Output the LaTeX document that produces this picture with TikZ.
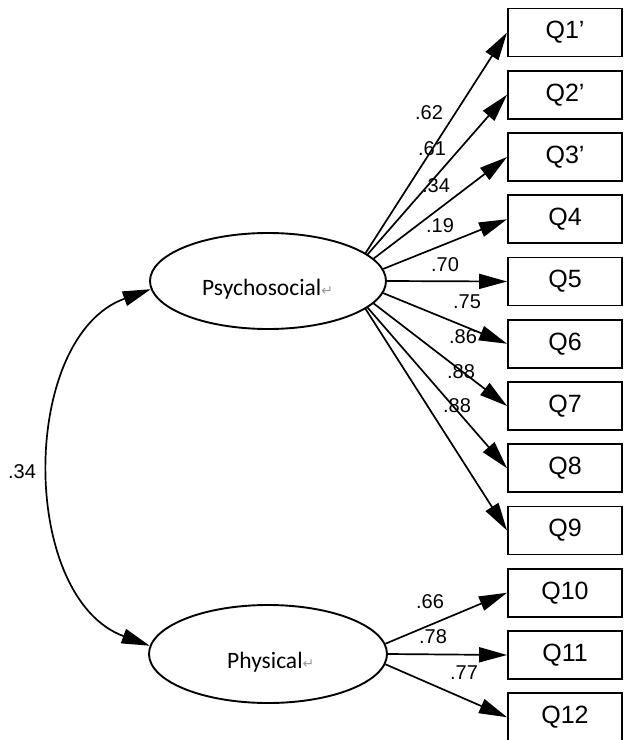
\documentclass[tikz,border=0pt]{standalone}
\usepackage{fontspec}
\setmainfont{Liberation Sans}
\newfontfamily\carlfont{Carlito}
\newfontfamily\djvfont{DejaVu Sans}
\usetikzlibrary{arrows.meta,shapes.geometric}
\definecolor{markgray}{HTML}{999999}
\begin{document}
\begin{tikzpicture}[x=1pt,y=-1pt,
  lat/.style={ellipse,draw,line width=1.9pt,minimum width=236pt,minimum height=96pt,inner sep=0pt},
  obs/.style={rectangle,draw,line width=1.9pt,minimum width=114pt,minimum height=48pt,inner sep=0pt,font=\fontsize{25}{28}\selectfont},
  ld/.style={line width=1.7pt,-{Triangle[length=28pt,width=15pt]}},
  cov/.style={line width=1.7pt,{Triangle[length=28pt,width=15pt]}-{Triangle[length=28pt,width=15pt]}},
  coef/.style={font=\fontsize{20}{23}\selectfont,inner sep=0pt},
  lattext/.style={anchor=base west,inner sep=0pt,font=\carlfont\fontsize{23.5}{26}\selectfont},
  ]
\useasboundingbox (0,0) rectangle (624,740);
% latent variables
\node[lat] (P) at (268,281) {};
\node[lat,minimum width=238pt,minimum height=98pt] (F) at (268,654) {};
\node[lattext] (Pt) at (202,295) {Psychosocial\textcolor{markgray}{\djvfont\fontsize{14}{16}\selectfont ↵}};
\node[lattext] (Ft) at (227,668) {Physical\textcolor{markgray}{\djvfont\fontsize{14}{16}\selectfont ↵}};
% observed variables
\node[obs] (Q1) at (565,32.5) {Q1'};
\node[obs] (Q2) at (565,94.75) {Q2'};
\node[obs] (Q3) at (565,157) {Q3'};
\node[obs] (Q4) at (565,219.25) {Q4};
\node[obs] (Q5) at (565,281.5) {Q5};
\node[obs] (Q6) at (565,343.75) {Q6};
\node[obs] (Q7) at (565,406) {Q7};
\node[obs] (Q8) at (565,468.25) {Q8};
\node[obs] (Q9) at (565,530.5) {Q9};
\node[obs] (Q10) at (565,592.75) {Q10};
\node[obs] (Q11) at (565,655) {Q11};
\node[obs] (Q12) at (565,717.25) {Q12};
% loadings
\draw[ld] (P.16) -- (Q1.west);
\draw[ld] (P.15) -- (Q2.west);
\draw[ld] (P.12) -- (Q3.west);
\draw[ld] (P.6) -- (Q4.west);
\draw[ld] (P.0) -- (Q5.west);
\draw[ld] (P.-6) -- (Q6.west);
\draw[ld] (P.-12) -- (Q7.west);
\draw[ld] (P.-15) -- (Q8.west);
\draw[ld] (P.-16) -- (Q9.west);
\draw[ld] (F.5) -- (Q10.west);
\draw[ld] (F.0) -- (Q11.west);
\draw[ld] (F.-5) -- (Q12.west);
% covariance
\draw[cov] (P.184) to[bend right=70] (F.176);
% coefficients
\node[coef] (c1) at (429,113) {.62};
\node[coef] (c2) at (432,149) {.61};
\node[coef] (c3) at (436,186) {.34};
\node[coef] (c4) at (440,226) {.19};
\node[coef] (c5) at (445,265) {.70};
\node[coef] (c6) at (467,302) {.75};
\node[coef] (c7) at (463,337) {.86};
\node[coef] (c8) at (461,372) {.88};
\node[coef] (c9) at (457,406) {.88};
\node[coef] (c10) at (430,602) {.66};
\node[coef] (c11) at (433,637) {.78};
\node[coef] (c12) at (464,673) {.77};
\node[coef] (c0) at (22,472) {.34};
\end{tikzpicture}
\end{document}
